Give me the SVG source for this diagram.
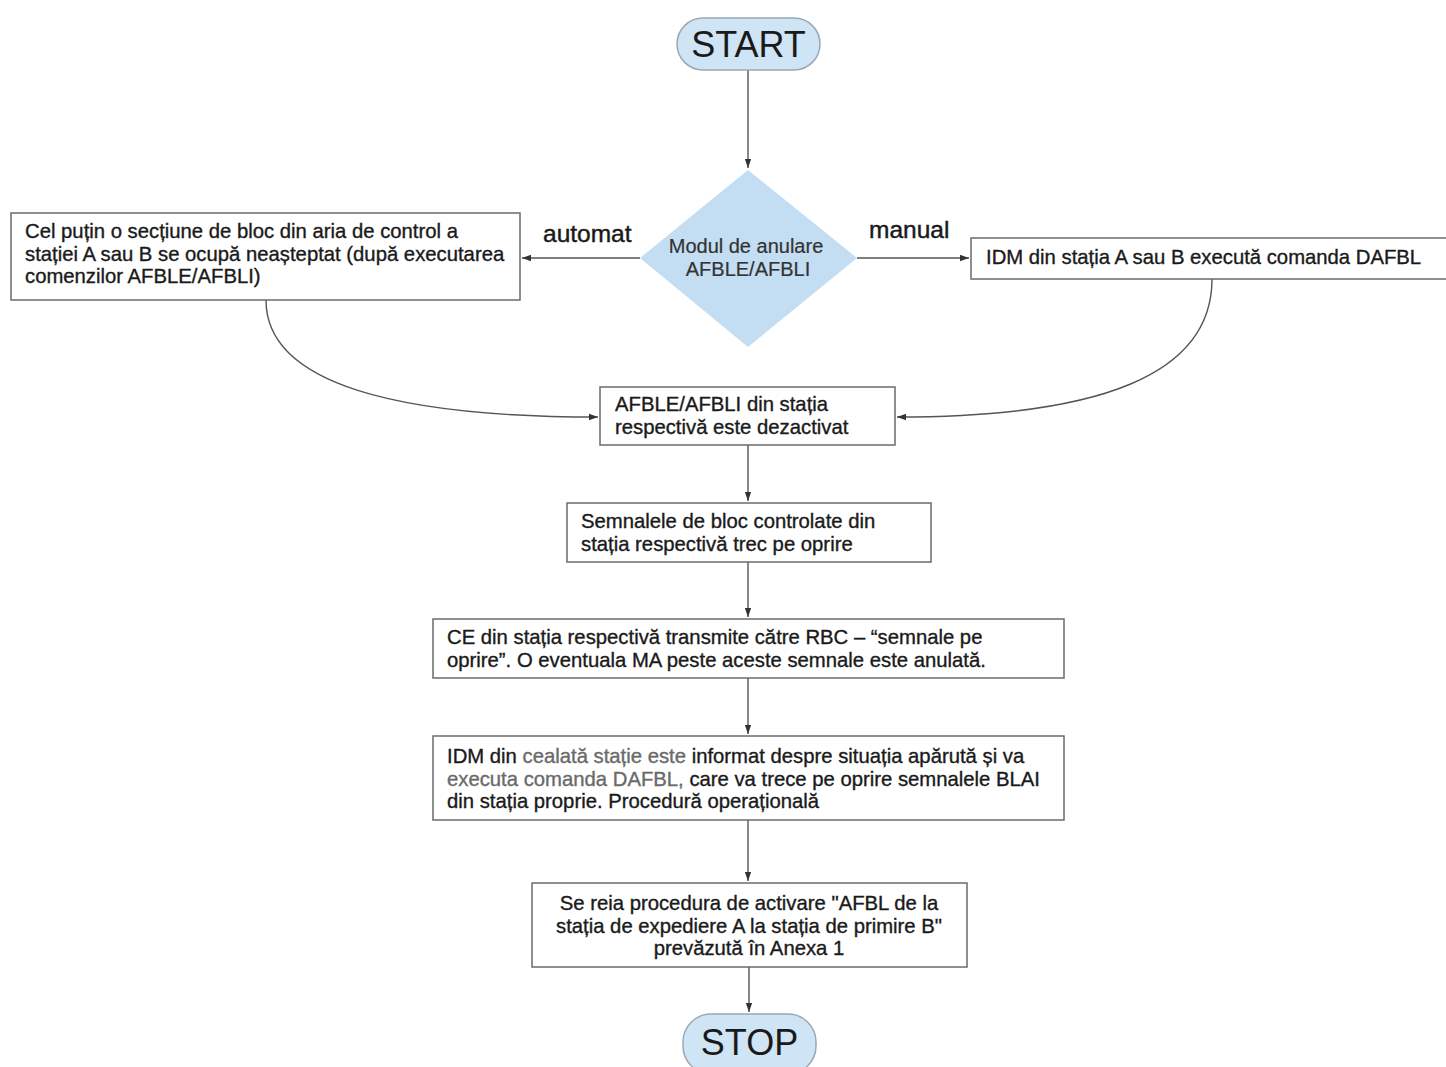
<svg xmlns="http://www.w3.org/2000/svg" width="1446" height="1067" viewBox="0 0 1446 1067">
<style>
.box{fill:#fff;stroke:#6b6b6b;stroke-width:1.5}
.term{fill:#cfe4f5;stroke:#9aa8b4;stroke-width:1.5}
.dia{fill:#c3ddf2;stroke:none}
.t{font-family:"Liberation Sans",Arial,sans-serif;font-size:20.3px;fill:#1a1a1a;stroke:#1a1a1a;stroke-width:0.35}
.lbl{font-family:"Liberation Sans",Arial,sans-serif;font-size:24.5px;fill:#1a1a1a;stroke:#1a1a1a;stroke-width:0.45}
.big{font-family:"Liberation Sans",Arial,sans-serif;font-size:36px;fill:#1a1a1a}
.c{fill:none;stroke:#555;stroke-width:1.4}
.g{fill:#6a6a6a;stroke:#6a6a6a}
.dt{font-size:20px;fill:#333;stroke:#333;stroke-width:0.2}
</style>
<defs>
<marker id="ah" viewBox="0 0 10 10" refX="10" refY="5" markerWidth="9" markerHeight="9" markerUnits="userSpaceOnUse" orient="auto">
<path d="M0,1.5 L10,5 L0,8.5 z" fill="#333"/>
</marker>
</defs>
<g id="connectors">
<path class="c" d="M748,70 V168" marker-end="url(#ah)"/>
<path class="c" d="M640,258 H522" marker-end="url(#ah)"/>
<path class="c" d="M857,258 H969" marker-end="url(#ah)"/>
<path class="c" d="M266,300 C266,385 400,417 598,417" marker-end="url(#ah)"/>
<path class="c" d="M1212,279 C1212,375 1100,417 897,417" marker-end="url(#ah)"/>
<path class="c" d="M748,445 V501" marker-end="url(#ah)"/>
<path class="c" d="M748,562 V617" marker-end="url(#ah)"/>
<path class="c" d="M748,678 V734" marker-end="url(#ah)"/>
<path class="c" d="M748,820 V881" marker-end="url(#ah)"/>
<path class="c" d="M749,967 V1012" marker-end="url(#ah)"/>
<text class="lbl" x="543" y="242">automat</text>
<text class="lbl" x="869" y="238">manual</text>
</g>
<g id="start">
<rect class="term" x="677" y="18" width="143" height="52" rx="26"/>
<text class="big" x="748.5" y="57" text-anchor="middle">START</text>
</g>
<g id="decision">
<polygon class="dia" points="748,170 857,258 748,347 640,258"/>
<text class="t dt" x="746" y="253" text-anchor="middle">Modul de anulare</text>
<text class="t dt" x="748" y="276" text-anchor="middle">AFBLE/AFBLI</text>
</g>
<g id="auto-box">
<rect class="box" x="11" y="213" width="509" height="87"/>
<text class="t" x="25" y="238">Cel puțin o secțiune de bloc din aria de control a</text>
<text class="t" x="25" y="261">stației A sau B se ocupă neașteptat (după executarea</text>
<text class="t" x="25" y="283">comenzilor AFBLE/AFBLI)</text>
</g>
<g id="manual-box">
<rect class="box" x="971" y="238" width="480" height="41"/>
<text class="t" x="986" y="264">IDM din stația A sau B execută comanda DAFBL</text>
</g>
<g id="deactivated">
<rect class="box" x="600" y="387" width="295" height="58"/>
<text class="t" x="615" y="411">AFBLE/AFBLI din stația</text>
<text class="t" x="615" y="434">respectivă este dezactivat</text>
</g>
<g id="signals">
<rect class="box" x="567" y="503" width="364" height="59"/>
<text class="t" x="581" y="528">Semnalele de bloc controlate din</text>
<text class="t" x="581" y="551">stația respectivă trec pe oprire</text>
</g>
<g id="ce">
<rect class="box" x="433" y="619" width="631" height="59"/>
<text class="t" x="447" y="644">CE din stația respectivă transmite către RBC – “semnale pe</text>
<text class="t" x="447" y="667">oprire”. O eventuala MA peste aceste semnale este anulată.</text>
</g>
<g id="idm-other">
<rect class="box" x="433" y="736" width="631" height="84"/>
<text class="t" x="447" y="763">IDM din <tspan class="g">cealată stație este</tspan> informat despre situația apărută și va</text>
<text class="t" x="447" y="786"><tspan class="g">executa comanda DAFBL,</tspan> care va trece pe oprire semnalele BLAI</text>
<text class="t" x="447" y="808">din stația proprie. Procedură operațională</text>
</g>
<g id="restart">
<rect class="box" x="532" y="883" width="435" height="84"/>
<text class="t" x="749" y="910" text-anchor="middle">Se reia procedura de activare "AFBL de la</text>
<text class="t" x="749" y="933" text-anchor="middle">stația de expediere A la stația de primire B"</text>
<text class="t" x="749" y="955" text-anchor="middle">prevăzută în Anexa 1</text>
</g>
<g id="stop">
<rect class="term" x="683" y="1014" width="133" height="60" rx="28"/>
<text class="big" x="749.5" y="1055" text-anchor="middle">STOP</text>
</g>
</svg>
